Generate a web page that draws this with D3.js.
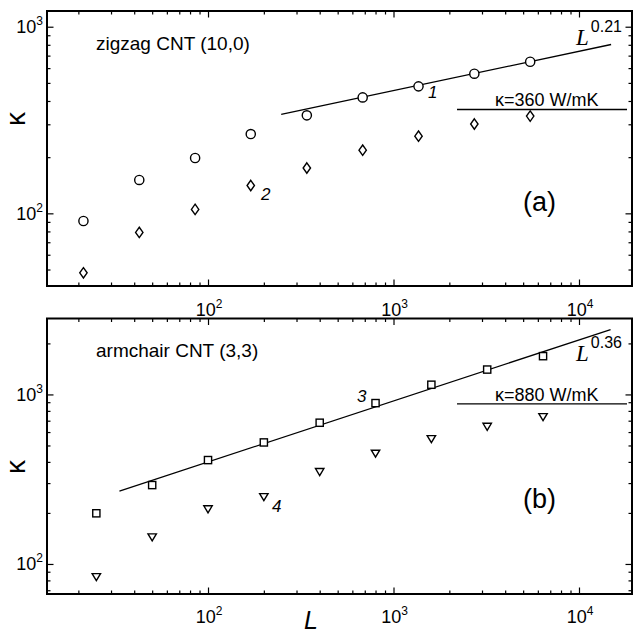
<!DOCTYPE html>
<html>
<head>
<meta charset="utf-8">
<script src="https://cdn.jsdelivr.net/npm/d3@7"></script>
<style>
  body { margin: 0; background: #fff; }
  svg text { font-family: "Liberation Sans", Arial, sans-serif; fill: #000; }
</style>
</head>
<body>
<div id="chart-container"></div>
<script>
// Data
const lenZigzag = [21.3, 42.6, 85.2, 170, 341, 682, 1364, 2728, 5456];
const kappaCurve1 = [91, 151, 198, 266, 335, 418, 479, 560, 649];   // circles
const kappaCurve2 = [48, 79, 105, 141, 175, 218, 259, 301, 332];    // diamonds
const fitZigzag = [[248, 339], [14900, 803]];                        // L^0.21
const plateauZigzag = [[2200, 360], [18150, 360]];

const lenArmchair = [25, 50, 100, 200, 400, 800, 1600, 3200, 6400];
const kappaCurve3 = [199, 292, 410, 521, 681, 889, 1141, 1402, 1682]; // squares
const kappaCurve4 = [84, 144, 211, 249, 350, 449, 547, 647, 738];      // triangles
const fitArmchair = [[33.3, 269], [14800, 2415]];                      // L^0.36
const plateauArmchair = [[2200, 880], [18150, 880]];

const xDecades = [2, 3, 4];

const width = 635, height = 635;
const svg = d3.select("#chart-container").append("svg")
  .attr("width", width).attr("height", height);

const xDomain = [13.55, 19310];

const panels = [
  {
    y0: 11, y1: 286, yDomain: [40.8, 1214], yDecades: [2, 3],
    series: [
      { len: lenZigzag, kappa: kappaCurve1, shape: "circle" },
      { len: lenZigzag, kappa: kappaCurve2, shape: "diamond" }
    ],
    fit: fitZigzag, plateau: plateauZigzag,
    title: "zigzag CNT (10,0)", titleY: 50,
    tag: "(a)", tagY: 211,
    plateauText: "\u03ba=360 W/mK", plateauTextY: 106,
    powText: "0.21", powY: 45,
    nums: [{ t: "1", x: 428, y: 98 }, { t: "2", x: 261, y: 200 }],
    kappaY: 119, xLabelY: 316
  },
  {
    y0: 318.5, y1: 594, yDomain: [66.5, 2805], yDecades: [2, 3],
    series: [
      { len: lenArmchair, kappa: kappaCurve3, shape: "square" },
      { len: lenArmchair, kappa: kappaCurve4, shape: "triangle" }
    ],
    fit: fitArmchair, plateau: plateauArmchair,
    title: "armchair CNT (3,3)", titleY: 357,
    tag: "(b)", tagY: 508,
    plateauText: "\u03ba=880 W/mK", plateauTextY: 401,
    powText: "0.36", powY: 361,
    nums: [{ t: "3", x: 357, y: 402 }, { t: "4", x: 272, y: 512 }],
    kappaY: 467, xLabelY: 623
  }
];

const x0 = 47, x1 = 632;

function minorValues(domain) {
  const out = [];
  for (let e = -1; e < 6; e++) {
    for (let m = 2; m <= 9; m++) {
      const v = m * Math.pow(10, e);
      if (v > domain[0] && v < domain[1]) out.push(v);
    }
  }
  return out;
}

function drawMarker(g, shape, cx, cy) {
  if (shape === "circle") {
    g.append("circle").attr("cx", cx).attr("cy", cy).attr("r", 4.6);
  } else if (shape === "diamond") {
    g.append("path").attr("d", `M${cx},${cy - 5.2}L${cx + 3.7},${cy}L${cx},${cy + 5.2}L${cx - 3.7},${cy}Z`);
  } else if (shape === "square") {
    g.append("rect").attr("x", cx - 3.6).attr("y", cy - 3.6).attr("width", 7.2).attr("height", 7.2);
  } else {
    g.append("path").attr("d", `M${cx - 4.2},${cy - 3.2}L${cx + 4.2},${cy - 3.2}L${cx},${cy + 3.8}Z`);
  }
}

panels.forEach((p) => {
  const xScale = d3.scaleLog().domain(xDomain).range([x0, x1]);
  const yScale = d3.scaleLog().domain(p.yDomain).range([p.y1, p.y0]);

  const xMajor = xDecades.map((d) => Math.pow(10, d));
  const yMajor = p.yDecades.map((d) => Math.pow(10, d));
  const xMinor = minorValues(xDomain).filter((v) => !xMajor.includes(v));
  const yMinor = minorValues(p.yDomain).filter((v) => !yMajor.includes(v));

  // inward ticks on all four sides
  const tickGroups = [
    [d3.axisBottom(xScale), `translate(0,${p.y0})`, xMajor, xMinor],
    [d3.axisTop(xScale), `translate(0,${p.y1})`, xMajor, xMinor],
    [d3.axisRight(yScale), `translate(${x0},0)`, yMajor, yMinor],
    [d3.axisLeft(yScale), `translate(${x1},0)`, yMajor, yMinor]
  ];
  tickGroups.forEach(([axis, tr, major, minor]) => {
    [[major, 6.5], [minor, 3.5]].forEach(([vals, len]) => {
      const g = svg.append("g").attr("transform", tr)
        .call(axis.tickValues(vals).tickSize(len).tickFormat(""));
      g.select(".domain").remove();
      g.selectAll("line").attr("stroke", "#000").attr("stroke-width", 1.2);
    });
  });

  // frame
  svg.append("rect")
    .attr("x", x0).attr("y", p.y0)
    .attr("width", x1 - x0).attr("height", p.y1 - p.y0)
    .attr("fill", "none").attr("stroke", "#000").attr("stroke-width", 2);

  // y tick labels
  p.yDecades.forEach((d) => {
    const t = svg.append("text").attr("x", 43).attr("y", yScale(Math.pow(10, d)) + 6.5)
      .attr("text-anchor", "end").attr("font-size", 18);
    t.append("tspan").text("10");
    t.append("tspan").attr("dy", -8).attr("font-size", 12).text(d);
  });

  // x tick labels
  xDecades.forEach((d) => {
    const t = svg.append("text").attr("x", xScale(Math.pow(10, d)) + 1).attr("y", p.xLabelY)
      .attr("text-anchor", "middle").attr("font-size", 18);
    t.append("tspan").text("10");
    t.append("tspan").attr("dy", -8).attr("font-size", 12).text(d);
  });

  // y axis label
  svg.append("text")
    .attr("transform", `translate(25,${p.kappaY}) rotate(-90)`)
    .attr("text-anchor", "middle").attr("font-size", 28)
    .text("\u03ba");

  const line = d3.line().x((d) => xScale(d[0])).y((d) => yScale(d[1]));
  svg.append("path").datum(p.fit).attr("d", line)
    .attr("fill", "none").attr("stroke", "#000").attr("stroke-width", 1.3);
  svg.append("path").datum(p.plateau).attr("d", line)
    .attr("fill", "none").attr("stroke", "#000").attr("stroke-width", 1.3);

  // markers
  p.series.forEach((s) => {
    const g = svg.append("g").attr("fill", "#fff").attr("stroke", "#000").attr("stroke-width", 1.4);
    s.len.forEach((L, i) => drawMarker(g, s.shape, xScale(L), yScale(s.kappa[i])));
  });

  // annotations
  svg.append("text").attr("x", 96).attr("y", p.titleY).attr("font-size", 19).text(p.title);
  svg.append("text").attr("x", 523).attr("y", p.tagY).attr("font-size", 27).text(p.tag);
  svg.append("text").attr("x", 495).attr("y", p.plateauTextY).attr("font-size", 18).text(p.plateauText);
  const pw = svg.append("text").attr("x", 576).attr("y", p.powY);
  pw.append("tspan").attr("font-family", "Liberation Serif, serif").attr("font-style", "italic")
    .attr("font-size", 23).text("L");
  pw.append("tspan").attr("dx", 2).attr("dy", -13).attr("font-size", 16).text(p.powText);
  p.nums.forEach((n) => {
    svg.append("text").attr("x", n.x).attr("y", n.y).attr("font-size", 17)
      .attr("font-style", "italic").text(n.t);
  });
});

// x axis label
svg.append("text").attr("x", 304).attr("y", 629)
  .attr("font-family", "Liberation Serif, serif").attr("font-style", "italic")
  .attr("font-size", 25).text("L");
</script>
</body>
</html>
